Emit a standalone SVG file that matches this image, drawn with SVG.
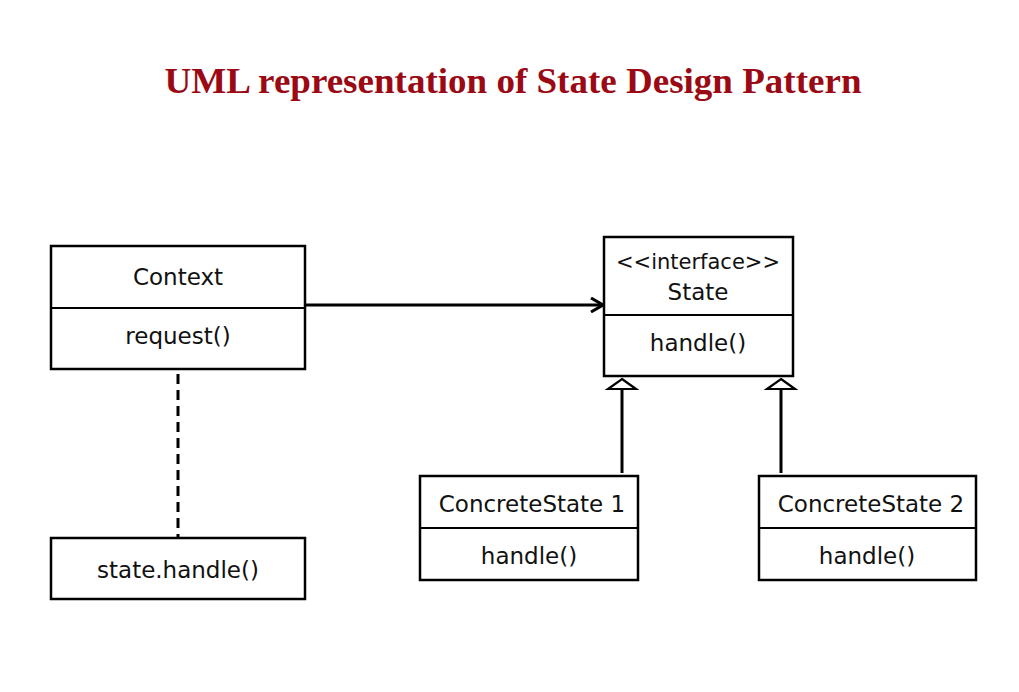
<svg xmlns="http://www.w3.org/2000/svg" width="1019" height="692" viewBox="0 0 1019 692">
<defs>
<style>
.box{fill:#fff;stroke:#000;stroke-width:2.5}
.div{stroke:#000;stroke-width:2}
.t{font-family:"DejaVu Sans",Verdana,sans-serif;font-size:23px;fill:#111;text-anchor:middle}
.s{font-size:21px}
.title{font-family:"Liberation Serif","Times New Roman",serif;font-weight:bold;font-size:36px;fill:#9b0a14;text-anchor:middle}
.ln{stroke:#000;stroke-width:3;fill:none}
.tri{fill:#fff;stroke:#000;stroke-width:2.2}
</style>
<marker id="open" viewBox="0 0 14 16" refX="13" refY="8" markerWidth="14" markerHeight="16" markerUnits="userSpaceOnUse" orient="auto">
<path d="M1,1 L13,8 L1,15" fill="none" stroke="#000" stroke-width="3"/>
</marker>
</defs>
<rect width="1019" height="692" fill="#fff"/>
<text class="title" x="513" y="93" textLength="697" lengthAdjust="spacingAndGlyphs">UML representation of State Design Pattern</text>
<g id="connectors">
<line class="ln" x1="306" y1="305" x2="603" y2="305" marker-end="url(#open)"/>
<line class="ln" x1="178" y1="374" x2="178" y2="540" stroke-dasharray="10,6" stroke-width="2.5"/>
<line class="ln" x1="622" y1="389" x2="622" y2="473"/>
<polygon class="tri" points="622,379 636,389 608,389"/>
<line class="ln" x1="781" y1="389" x2="781" y2="473"/>
<polygon class="tri" points="781,379 795,389 767,389"/>
</g>
<g id="context">
<rect class="box" x="51" y="246" width="254" height="123"/>
<line class="div" x1="51" y1="308" x2="305" y2="308"/>
<text class="t" x="178" y="285">Context</text>
<text class="t" x="178" y="344">request()</text>
</g>
<g id="state">
<rect class="box" x="604" y="237" width="189" height="139"/>
<line class="div" x1="604" y1="315" x2="793" y2="315"/>
<text class="t s" x="698" y="269">&lt;&lt;interface&gt;&gt;</text>
<text class="t" x="698" y="300">State</text>
<text class="t" x="698" y="351">handle()</text>
</g>
<g id="concrete1">
<rect class="box" x="420" y="476" width="218" height="104"/>
<line class="div" x1="420" y1="528" x2="638" y2="528"/>
<text class="t" x="532" y="512">ConcreteState 1</text>
<text class="t" x="529" y="564">handle()</text>
</g>
<g id="concrete2">
<rect class="box" x="759" y="476" width="217" height="104"/>
<line class="div" x1="759" y1="528" x2="976" y2="528"/>
<text class="t" x="871" y="512">ConcreteState 2</text>
<text class="t" x="867" y="564">handle()</text>
</g>
<g id="statehandle">
<rect class="box" x="51" y="538" width="254" height="61"/>
<text class="t" x="178" y="578">state.handle()</text>
</g>
</svg>
